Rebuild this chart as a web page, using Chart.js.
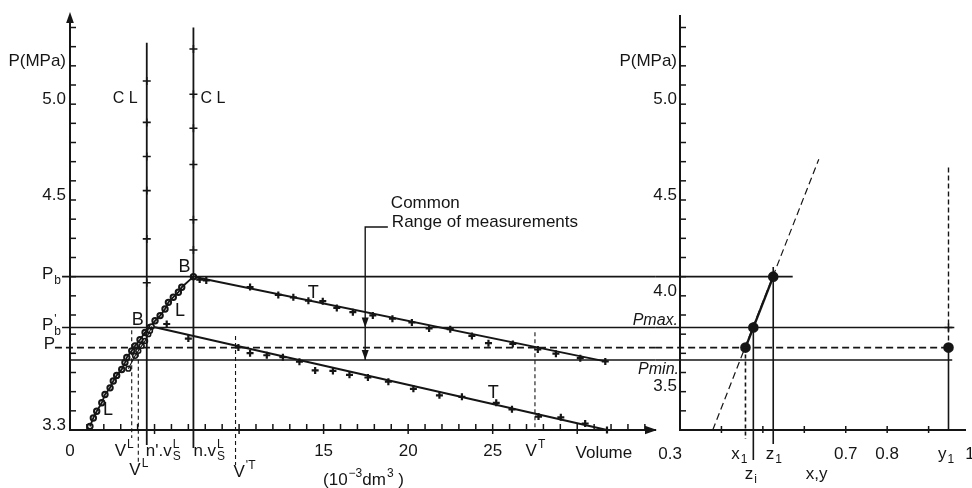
<!DOCTYPE html>
<html>
<head>
<meta charset="utf-8">
<script src="https://cdn.jsdelivr.net/npm/chart.js@4.4.1/dist/chart.umd.min.js"></script>
<style>
  html, body { margin: 0; padding: 0; background: #fff; }
  #wrap { position: relative; width: 972px; height: 488px; }
  #wrap canvas { position: absolute; left: 0; top: 0; }
</style>
</head>
<body>
<div id="wrap">
  <canvas id="volumeChart" width="972" height="488"></canvas>
  <canvas id="fractionChart" width="972" height="488"></canvas>
</div>
<script>
// pressure levels (MPa) shared by both panels
const levelNames = ['Pb', "Pb'", 'P', 'Pmin'];
const levelValues = [4.10, 3.835, 3.73, 3.665];
const levelStartVolume = [-0.47, -0.47, -0.89, 0];
const levelEndFraction = [0.572, 0.962, 0.948, 0.957];

// liquid branch L (up to B) and second branch (up to B')
const liquidVolume = [1.18, 1.38, 1.58, 1.88, 2.07, 2.37, 2.56, 2.76, 3.06, 3.25, 3.36, 3.65, 3.85, 4.14, 4.44, 4.73, 5.03, 5.33, 5.62, 5.82, 6.11, 6.41, 6.61, 7.30];
const liquidPressure = [3.319, 3.363, 3.398, 3.442, 3.485, 3.52, 3.556, 3.585, 3.616, 3.652, 3.678, 3.713, 3.739, 3.771, 3.809, 3.835, 3.87, 3.897, 3.931, 3.966, 3.993, 4.019, 4.045, 4.10];
const liquid2Volume = [3.45, 3.85, 4.04, 4.24, 4.44, 4.63, 4.73, 4.83];
const liquid2Pressure = [3.62, 3.687, 3.713, 3.739, 3.765, 3.80, 3.818, 3.84];

// two-phase branches T
const tieVolume = [7.67, 8.06, 10.65, 12.32, 13.21, 14.1, 14.95, 15.78, 16.73, 17.91, 19.07, 20.22, 21.24, 22.49, 23.77, 24.75, 26.19, 27.67, 28.74, 30.18, 31.66];
const tiePressure = [4.085, 4.080, 4.046, 4.005, 3.992, 3.975, 3.972, 3.937, 3.915, 3.898, 3.881, 3.861, 3.830, 3.826, 3.791, 3.753, 3.749, 3.720, 3.698, 3.675, 3.658];
const tieLineVolume = [7.30, 31.66];
const tieLinePressure = [4.10, 3.658];
const tie2Volume = [5.72, 7.0, 9.96, 10.65, 11.64, 12.59, 13.57, 14.5, 15.55, 16.53, 17.62, 18.83, 20.31, 21.85, 23.18, 25.21, 26.14, 27.71, 29.03, 30.47, 31.76];
const tie2Pressure = [3.853, 3.777, 3.731, 3.701, 3.690, 3.680, 3.656, 3.611, 3.608, 3.588, 3.574, 3.552, 3.515, 3.481, 3.473, 3.442, 3.408, 3.370, 3.366, 3.334, 3.30];
const tie2LineVolume = [4.83, 31.76];
const tie2LinePressure = [3.84, 3.30];

// CL verticals and their points
const clVolume = [4.54, 7.30];
const clTop = [5.32, 5.40];
const clBottom = [3.222, 3.206];
const cl1Pressure = [5.121, 4.905, 4.727, 4.549, 4.297, 4.068];
const cl2Pressure = [5.288, 5.052, 4.874, 4.685, 4.397, 4.239];

// dashed volume markers V^L, V^L, V'^T, V^T
const markVolume = [3.65, 4.04, 9.79, 27.5];
const markTop = [3.82, 3.74, 3.79, 3.81];
const markBottom = [3.258, 3.117, 3.117, 3.30];

// "common range" bracket
const bracketVolume = [18.8, 17.46, 17.46];
const bracketPressure = [4.359, 4.359, 3.665];

// right panel: x1, zi, z1, y1
const pointFraction = [0.458, 0.477, 0.525, 0.948];
const pointPressure = [3.73, 3.835, 4.10, 3.73];
const phaseFraction = [0.379, 0.635];
const phasePressure = [3.30, 4.713];
const dropTop = [3.73, 3.862, 4.15, 3.73];
const dropBottom = [3.253, 3.143, 3.227, 3.30];
const y1DashTop = 4.67;

const volumeTickLabels = { 0: '0', 15: '15', 20: '20', 25: '25' };
const pressureTickLabels = { 3.3: '3.3', 4.5: '4.5', 5: '5.0', 5.2: 'P(MPa)' };
const rightPressureTickLabels = { 3.5: '3.5', 4: '4.0', 4.5: '4.5', 5: '5.0', 5.2: 'P(MPa)' };
const fractionTickLabels = { 0.7: '0.7', 0.8: '0.8' };

const INK = '#151515';
const FONT = '"Liberation Sans", Arial, sans-serif';
const P_MIN = 3.3, P_MAX = 5.46;
const VOL_MAX = 34.6;
const FR_MIN = 0.3, FR_MAX = 0.99;

Chart.defaults.font.family = FONT;
Chart.defaults.color = INK;

const pts = (xs, ys) => xs.map((x, i) => ({ x: x, y: ys[i] }));

function seg(xs, ys, width, dash) {
    return {
        data: pts(xs, ys), showLine: true, pointRadius: 0, borderColor: INK,
        borderWidth: width, borderDash: dash || [], clip: false, fill: false
    };
}

function marks(xs, ys, style, radius, fillColor, width) {
    return {
        data: pts(xs, ys), showLine: false, pointStyle: style, pointRadius: radius,
        pointBorderColor: INK, pointBackgroundColor: fillColor || INK,
        pointBorderWidth: width || 1.6, clip: false
    };
}

function line(ctx, x1, y1, x2, y2) {
    ctx.beginPath();
    ctx.moveTo(x1, y1);
    ctx.lineTo(x2, y2);
    ctx.stroke();
}

function arrow(ctx, x, y, dx, dy, size) {
    const nx = -dy, ny = dx;
    ctx.beginPath();
    ctx.moveTo(x, y);
    ctx.lineTo(x - dx * size + nx * size * 0.35, y - dy * size + ny * size * 0.35);
    ctx.lineTo(x - dx * size - nx * size * 0.35, y - dy * size - ny * size * 0.35);
    ctx.closePath();
    ctx.fill();
}

// text with stacked super/subscripts
function rich(ctx, x, y, parts, size, align, style) {
    const small = Math.round(size * 0.72);
    const big = (style || '') + ' ' + size + 'px ' + FONT;
    const little = (style || '') + ' ' + small + 'px ' + FONT;
    let width = 0;
    parts.forEach(p => {
        if (p.t) { ctx.font = big; width += ctx.measureText(p.t).width; }
        ctx.font = little;
        width += Math.max(p.sup ? ctx.measureText(p.sup).width : 0, p.sub ? ctx.measureText(p.sub).width : 0);
    });
    let cx = align === 'right' ? x - width : align === 'center' ? x - width / 2 : x;
    ctx.textAlign = 'left';
    ctx.textBaseline = 'middle';
    parts.forEach(p => {
        if (p.t) { ctx.font = big; ctx.fillText(p.t, cx, y); cx += ctx.measureText(p.t).width; }
        ctx.font = little;
        let w = 0;
        if (p.sup) { ctx.fillText(p.sup, cx + 1, y - size * 0.36); w = ctx.measureText(p.sup).width + 1; }
        if (p.sub) { ctx.fillText(p.sub, cx + 1, y + size * 0.34); w = Math.max(w, ctx.measureText(p.sub).width + 1); }
        cx += w;
    });
}

const pickLabel = (table, value) => {
    const key = Math.round(value * 10) / 10;
    return Math.abs(key - value) < 1e-6 && table[key] !== undefined ? table[key] : '';
};

const volumeDecor = {
    id: 'volumeDecor',
    afterDraw(chart) {
        const { ctx, scales: { x, y } } = chart;
        const X = v => x.getPixelForValue(v);
        const Y = v => y.getPixelForValue(v);
        const base = Y(P_MIN);
        ctx.save();
        ctx.strokeStyle = INK;
        ctx.fillStyle = INK;
        ctx.lineWidth = 1.5;

        for (let v = 1; v <= 34; v++) {
            const major = v % 5 === 0;
            line(ctx, X(v), base - 6, X(v), base + (major ? 4 : 0));
        }
        for (let i = 34; i <= 54; i++) {
            line(ctx, x.left, Y(i / 10), x.left + 6, Y(i / 10));
        }
        arrow(ctx, x.left, y.top - 4, 0, -1, 11);
        arrow(ctx, x.right + 2, base, 1, 0, 12);

        // common range arrows
        arrow(ctx, X(bracketVolume[1]), Y(levelValues[1]), 0, 1, 10);
        arrow(ctx, X(bracketVolume[1]), Y(levelValues[3]), 0, 1, 10);

        // labels under the volume axis
        const row1 = base + 21, row2 = base + 40;
        rich(ctx, X(markVolume[0]) + 1, row1, [{ t: 'V', sup: 'L' }], 17, 'right');
        rich(ctx, X(clVolume[0]) - 1, row1, [{ t: "n'.v", sup: 'L', sub: 'S' }], 17, 'left');
        rich(ctx, X(clVolume[1]), row1, [{ t: 'n.v', sup: 'L', sub: 'S' }], 17, 'left');
        rich(ctx, X(markVolume[3]), row1, [{ t: 'V', sup: 'T' }], 17, 'center');
        rich(ctx, X(29.9), row1 + 2, [{ t: 'Volume' }], 17, 'left');
        rich(ctx, X(markVolume[1]), row2, [{ t: 'V', sup: 'L' }], 17, 'center');
        rich(ctx, X(markVolume[2]) - 2, row2 + 2, [{ t: 'V', sup: "'T" }], 17, 'left');
        rich(ctx, X(17.3), base + 50, [{ t: '(10', sup: '\u22123' }, { t: 'dm', sup: '3' }, { t: ' )' }], 17, 'center');

        // level labels left of the pressure axis
        rich(ctx, x.left - 10, Y(levelValues[0]) - 2, [{ t: 'P', sub: 'b' }], 17, 'right');
        rich(ctx, x.left - 10, Y(levelValues[1]) - 2, [{ t: 'P', sub: 'b', sup: "'" }], 17, 'right');
        rich(ctx, x.left - 15, Y(levelValues[2]) - 3, [{ t: 'P' }], 17, 'right');

        // curve annotations
        rich(ctx, X(clVolume[0]) - 9, Y(5.03), [{ t: 'C L' }], 16, 'right');
        rich(ctx, X(clVolume[1]) + 7, Y(5.03), [{ t: 'C L' }], 16, 'left');
        rich(ctx, X(tieLineVolume[0]) - 9, Y(tieLinePressure[0]) - 10, [{ t: 'B' }], 18, 'center');
        rich(ctx, X(tie2LineVolume[0]) - 14, Y(tie2LinePressure[0]) - 6, [{ t: 'B' }], 18, 'center');
        rich(ctx, X(6.5), Y(3.919), [{ t: 'L' }], 18, 'center');
        rich(ctx, X(2.25), Y(3.405), [{ t: 'L' }], 18, 'center');
        rich(ctx, X(14.38), Y(4.017), [{ t: 'T' }], 18, 'center');
        rich(ctx, X(25.03), Y(3.493), [{ t: 'T' }], 18, 'center');
        rich(ctx, X(bracketVolume[0]) + 3, Y(bracketPressure[0]) - 24, [{ t: 'Common' }], 17, 'left');
        rich(ctx, X(bracketVolume[0]) + 4, Y(bracketPressure[0]) - 5, [{ t: 'Range of measurements' }], 17, 'left');
        ctx.restore();
    }
};

const fractionDecor = {
    id: 'fractionDecor',
    afterDraw(chart) {
        const { ctx, scales: { x, y } } = chart;
        const X = v => x.getPixelForValue(v);
        const Y = v => y.getPixelForValue(v);
        const base = Y(P_MIN);
        ctx.save();
        ctx.strokeStyle = INK;
        ctx.fillStyle = INK;
        ctx.lineWidth = 1.5;
        for (let i = 4; i <= 9; i++) {
            line(ctx, X(i / 10), base - 4, X(i / 10), base + 3);
        }
        for (let i = 34; i <= 54; i++) {
            line(ctx, x.left, Y(i / 10), x.left + 6, Y(i / 10));
        }
        const row1 = base + 24, row2 = base + 44;
        rich(ctx, x.left + 2, row1, [{ t: '0.3' }], 17, 'right');
        rich(ctx, X(pointFraction[0]) + 1, row1, [{ t: 'x', sub: '1' }], 17, 'right');
        rich(ctx, X(pointFraction[2]), row1, [{ t: 'z', sub: '1' }], 17, 'center');
        rich(ctx, X(pointFraction[3]) - 3, row1, [{ t: 'y', sub: '1' }], 17, 'center');
        rich(ctx, X(1.0), row1, [{ t: '1' }], 17, 'center');
        rich(ctx, X(pointFraction[1]) - 3, row2, [{ t: 'z', sub: 'i' }], 17, 'center');
        rich(ctx, X(0.63), row2, [{ t: 'x,y' }], 17, 'center');
        rich(ctx, x.left - 2, Y(levelValues[1]) - 7, [{ t: 'Pmax.' }], 16, 'right', 'italic');
        rich(ctx, x.left - 1, Y(levelValues[3]) + 10, [{ t: 'Pmin.' }], 16, 'right', 'italic');
        ctx.restore();
    }
};

// tick marks themselves are drawn by the plugins; tickLength only spaces the labels
function axisOptions(min, max, step, table, size, gap, offset) {
    return {
        type: 'linear', min: min, max: max,
        afterFit: s => { if (size.w) s.width = size.w; if (size.h) s.height = size.h; },
        grid: { display: false, drawTicks: true, tickLength: gap },
        border: { display: true, color: INK, width: 2 },
        ticks: {
            stepSize: step, autoSkip: false, maxRotation: 0, padding: 0,
            labelOffset: offset || 0, color: INK, font: { family: FONT, size: 17 },
            callback: v => pickLabel(table, v)
        }
    };
}

const baseOptions = {
    responsive: false,
    animation: false,
    devicePixelRatio: 1,
    events: [],
    plugins: { legend: { display: false }, tooltip: { enabled: false } }
};

const volumeDatasets = [];
levelNames.forEach((name, i) => {
    volumeDatasets.push(seg([levelStartVolume[i], VOL_MAX], [levelValues[i], levelValues[i]], 1.6, name === 'P' ? [7, 4] : null));
});
clVolume.forEach((v, i) => volumeDatasets.push(seg([v, v], [clTop[i], clBottom[i]], 1.8)));
markVolume.forEach((v, i) => volumeDatasets.push(seg([v, v], [markTop[i], markBottom[i]], 1.1, [4, 3])));
volumeDatasets.push(seg(bracketVolume, bracketPressure, 1.4));
volumeDatasets.push(marks(cl1Pressure.map(() => clVolume[0]), cl1Pressure, 'cross', 4));
volumeDatasets.push(marks(cl2Pressure.map(() => clVolume[1]), cl2Pressure, 'cross', 4));
volumeDatasets.push(seg(liquid2Volume, liquid2Pressure, 1.1));
volumeDatasets.push(marks(liquid2Volume, liquid2Pressure, 'circle', 2.4, '#fff', 1.6));
volumeDatasets.push(seg(liquidVolume, liquidPressure, 1.8));
volumeDatasets.push(marks(liquidVolume, liquidPressure, 'circle', 2.7, '#fff', 2));
volumeDatasets.push(seg(tieLineVolume, tieLinePressure, 2));
volumeDatasets.push(seg(tie2LineVolume, tie2LinePressure, 2));
volumeDatasets.push(marks(tieVolume, tiePressure, 'cross', 3.5, INK, 2.2));
volumeDatasets.push(marks(tie2Volume, tie2Pressure, 'cross', 3.5, INK, 2.2));

new Chart(document.getElementById('volumeChart'), {
    type: 'scatter',
    data: { datasets: volumeDatasets },
    options: Object.assign({}, baseOptions, {
        layout: { padding: { left: 0, right: 317, top: 16, bottom: 0 } },
        scales: {
            x: axisOptions(0, VOL_MAX, 1, volumeTickLabels, { h: 58 }, 11),
            y: axisOptions(P_MIN, P_MAX, 0.1, pressureTickLabels, { w: 70 }, 4, -5)
        }
    }),
    plugins: [volumeDecor]
});

const fractionDatasets = [];
levelNames.forEach((name, i) => {
    fractionDatasets.push(seg([0.24, levelEndFraction[i]], [levelValues[i], levelValues[i]], 1.6, name === 'P' ? [7, 4] : null));
});
fractionDatasets.push(seg(phaseFraction, phasePressure, 1.2, [7, 4]));
fractionDatasets.push(seg([pointFraction[0], pointFraction[2]], [pointPressure[0], pointPressure[2]], 2.4));
pointFraction.forEach((f, i) => {
    fractionDatasets.push(seg([f, f], [dropTop[i], dropBottom[i]], 1.6, i === 0 ? [4, 3] : null));
});
fractionDatasets.push(seg([pointFraction[3], pointFraction[3]], [y1DashTop, pointPressure[3]], 1.4, [5, 3]));
fractionDatasets.push(marks([pointFraction[3]], [levelValues[1]], 'cross', 4));
fractionDatasets.push(marks(pointFraction, pointPressure, 'circle', 4.5));

new Chart(document.getElementById('fractionChart'), {
    type: 'scatter',
    data: { datasets: fractionDatasets },
    options: Object.assign({}, baseOptions, {
        layout: { padding: { left: 600, right: 0, top: 16, bottom: 0 } },
        scales: {
            x: axisOptions(FR_MIN, FR_MAX, 0.1, fractionTickLabels, { h: 58 }, 14),
            y: axisOptions(P_MIN, P_MAX, 0.1, rightPressureTickLabels, { w: 80 }, 3, -5)
        }
    }),
    plugins: [fractionDecor]
});
</script>
</body>
</html>
